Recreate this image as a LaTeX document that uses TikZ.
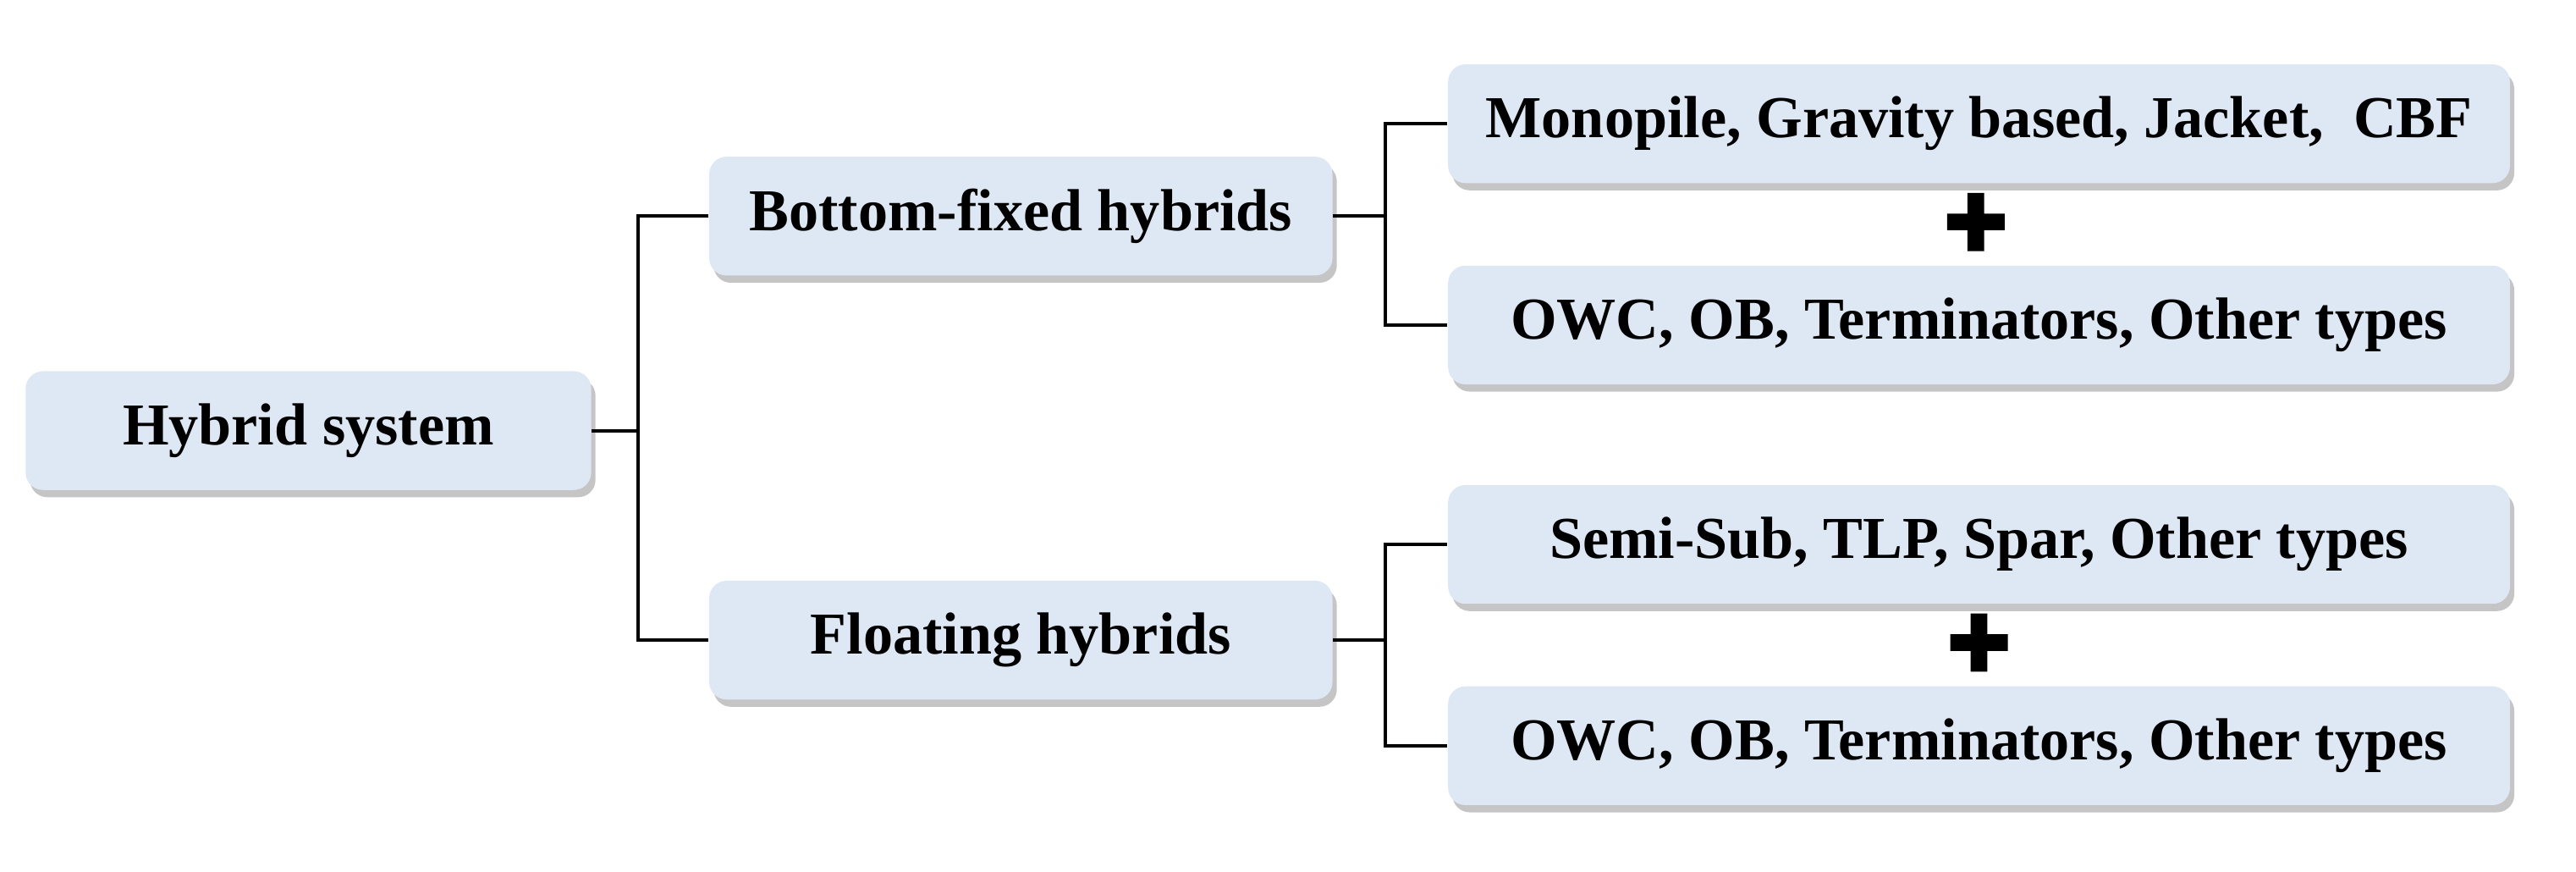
\documentclass[tikz,border=0pt]{standalone}
\usepackage{fontspec}
\setmainfont{Liberation Serif}
\newfontfamily\plusfont{Liberation Sans}[FakeBold=5]
\usetikzlibrary{shadows}
\definecolor{boxblue}{HTML}{DEE8F4}
\tikzset{
  box/.style={draw=none,fill=boxblue,rounded corners=6pt,minimum height=1.44cm,
    font=\fontsize{20.5}{24}\selectfont\bfseries,
    drop shadow={shadow xshift=1.5pt,shadow yshift=-2.5pt,fill=black!45}},
  plus/.style={font=\fontsize{36}{36}\plusfont\bfseries},
  link/.style={line width=1.2pt}
}
\begin{document}
\begin{tikzpicture}[x=0.02cm,y=-0.02cm]
\useasboundingbox (0,0) rectangle (1562,528.5);
% root
\node[box,minimum width=6.86cm] (root) at (187,261) {Hybrid system};
% second level
\node[box,minimum width=7.56cm] (bf) at (619,131) {Bottom-fixed hybrids};
\node[box,minimum width=7.56cm] (fl) at (619,388) {Floating hybrids};
% third level
\node[box,minimum width=12.88cm] (bf1) at (1200,75) {Monopile, Gravity based, Jacket,~ CBF};
\node[box,minimum width=12.88cm] (bf2) at (1200,197) {OWC, OB, Terminators, Other types};
\node[box,minimum width=12.88cm] (fl1) at (1200,330) {Semi-Sub, TLP, Spar, Other types};
\node[box,minimum width=12.88cm] (fl2) at (1200,452) {OWC, OB, Terminators, Other types};
% plus signs
\node[plus] (p1) at (1198,137) {+};
\node[plus] (p2) at (1200,392) {+};
% connectors
\coordinate (j0) at (387,261);
\coordinate (j1) at (840,131);
\coordinate (j2) at (840,388);
\draw[link] (root.east) -- (j0);
\draw[link] (bf.west) -| (j0) |- (fl.west);
\draw[link] (bf.east) -- (j1);
\draw[link] (bf1.west) -| (j1) |- (bf2.west);
\draw[link] (fl.east) -- (j2);
\draw[link] (fl1.west) -| (j2) |- (fl2.west);
\end{tikzpicture}
\end{document}
